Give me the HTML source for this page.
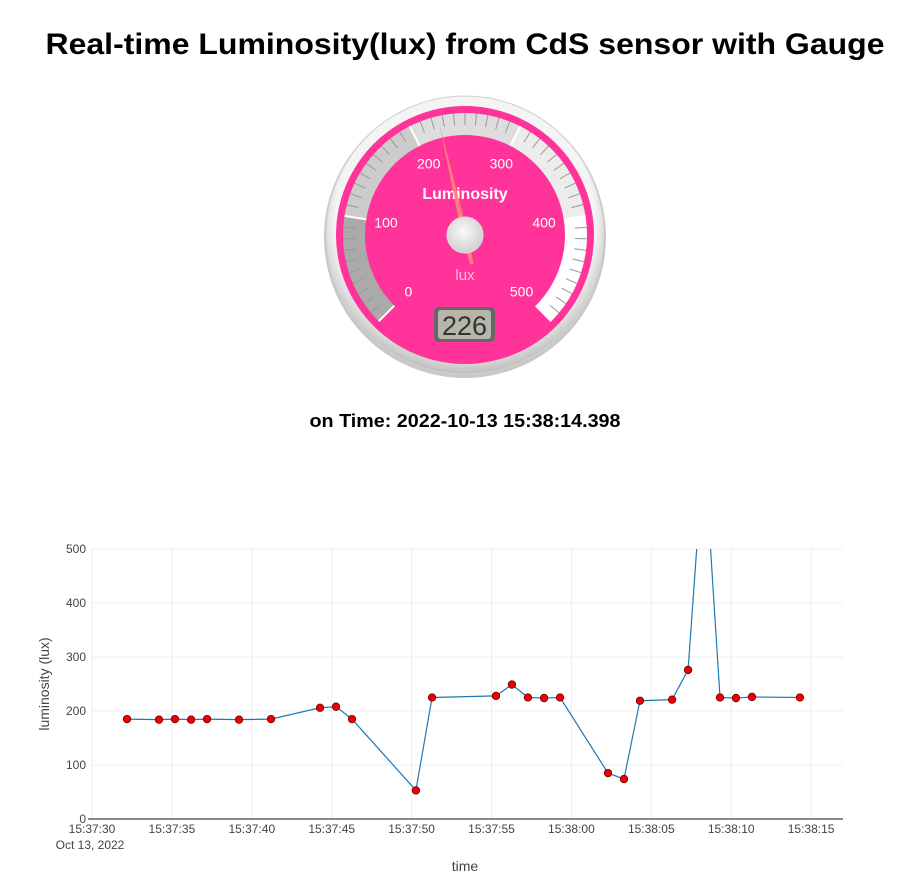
<!DOCTYPE html>
<html><head><meta charset="utf-8"><style>
html,body{margin:0;padding:0;background:#fff;width:911px;height:883px;overflow:hidden}
svg{display:block;font-family:"Liberation Sans",sans-serif}
</style></head><body>
<svg id="root" width="911" height="883" viewBox="0 0 911 883">
<defs>
<radialGradient id="bez" cx="50%" cy="45%" r="55%"><stop offset="0.85" stop-color="#f4f4f4"/><stop offset="1" stop-color="#bdbdbd"/></radialGradient>
<radialGradient id="hub" cx="45%" cy="40%" r="60%"><stop offset="0" stop-color="#fafafa"/><stop offset="1" stop-color="#cfcfcf"/></radialGradient>
<clipPath id="plotclip"><rect x="92" y="549" width="751" height="270"/></clipPath>
</defs>
<text x="465" y="54" text-anchor="middle" font-size="30" font-weight="bold" textLength="839" lengthAdjust="spacingAndGlyphs" fill="#000">Real-time Luminosity(lux) from CdS sensor with Gauge</text>
<g id="gauge"></g>
<text x="465" y="427" text-anchor="middle" font-size="18" font-weight="bold" textLength="311" lengthAdjust="spacingAndGlyphs">on Time: 2022-10-13 15:38:14.398</text>
<g id="chart"></g>
</svg>
<script>
// ---- gauge data ----
const gaugeValue = 226;
const gaugeTicks = [0,100,200,300,400,500];
const bandColors = ["#aaaaaa","#cccccc","#dddddd","#ececec","#ffffff"];
// ---- chart data ----
const startLabel = "15:37:30";
const timeOffsets = [2.19,4.19,5.19,6.2,7.2,9.2,11.2,14.27,15.27,16.27,20.27,21.28,25.28,26.28,27.28,28.29,29.29,32.29,33.29,34.29,36.3,37.3,38.3,39.3,40.3,41.3,44.3];
const luxValues = [185,184,185,184,185,184,185,206,208,185,53,225,228,249,225,224,225,85,74,219,221,276,690,225,224,226,225];
const yTicks = [0,100,200,300,400,500];
const xTickSecs = [0,5,10,15,20,25,30,35,40,45];
const xTickLabels = ["15:37:30","15:37:35","15:37:40","15:37:45","15:37:50","15:37:55","15:38:00","15:38:05","15:38:10","15:38:15"];

const NS="http://www.w3.org/2000/svg";
function mk(tag,attrs,parent){const e=document.createElementNS(NS,tag);for(const k in attrs)e.setAttribute(k,attrs[k]);parent.appendChild(e);return e;}

// gauge
const G=document.getElementById('gauge');
const cx=465,cy=235;
const ang=v=>(-135+v*0.54)*Math.PI/180;
const pt=(v,r)=>[cx+r*Math.sin(ang(v)),cy-r*Math.cos(ang(v))];
let e;
e=mk('circle',{cx:cx,cy:cy+2,r:141,fill:'#c8c8c8'},G);

e=mk('circle',{cx:cx,cy:cy,r:139,fill:'url(#bez)',stroke:'#d0d0d0','stroke-width':1},G);

e=mk('circle',{cx:cx,cy:cy,r:129,fill:'#ff3399'},G);

for(let i=0;i<5;i++){
  const a=i*100,b=(i+1)*100,ro=122,ri=100;
  const [x1,y1]=pt(a,ro),[x2,y2]=pt(b,ro),[x3,y3]=pt(b,ri),[x4,y4]=pt(a,ri);
  e=mk('path',{d:`M${x1},${y1} A${ro},${ro} 0 0 1 ${x2},${y2} L${x3},${y3} A${ri},${ri} 0 0 0 ${x4},${y4} Z`,fill:bandColors[i]},G);
  
}
for(let v=0;v<=500;v+=10){
  const [x1,y1]=pt(v,122),[x2,y2]=pt(v,v%100===0?100:110);
  e=mk('line',{x1:x1,y1:y1,x2:x2,y2:y2,stroke:v%100===0?'#fff':'#999','stroke-width':v%100===0?2:1},G);
  
}
gaugeTicks.forEach(v=>{const [x,y]=pt(v,80);
  e=mk('text',{x:x,y:y+5,'text-anchor':'middle','font-size':14,fill:'#fff'},G);e.textContent=v;
  });
e=mk('text',{x:cx,y:199,'text-anchor':'middle','font-size':16,'font-weight':'bold',fill:'#fff'},G);e.textContent='Luminosity';

e=mk('text',{x:cx,y:280,'text-anchor':'middle','font-size':15,fill:'#ffc0dd'},G);e.textContent='lux';

e=mk('rect',{x:434,y:307,width:61,height:35,rx:5,fill:'#666'},G);

e=mk('rect',{x:438,y:310,width:53,height:29,rx:3,fill:'#b5b5aa'},G);

e=mk('text',{x:464.5,y:335,'text-anchor':'middle','font-size':27,fill:'#333'},G);e.textContent=gaugeValue;

// needle
{const a=ang(gaugeValue);const [tx,ty]=pt(gaugeValue,114);const [bx,by]=pt(gaugeValue,-30);
 const px=Math.cos(a)*3,py=Math.sin(a)*3;
 e=mk('path',{d:`M${tx},${ty} L${cx+px},${cy+py} L${bx+px*0.6},${by+py*0.6} L${bx-px*0.6},${by-py*0.6} L${cx-px},${cy-py} Z`,fill:'#ff8877',opacity:0.9},G);
 }
e=mk('circle',{cx:cx,cy:cy,r:18,fill:'url(#hub)',stroke:'#ddd'},G);


// chart
const C=document.getElementById('chart');
const X0=92,XS=15.98,Y0=819,YS=0.54;
const xs=t=>X0+t*XS, ys=v=>Y0-v*YS;
yTicks.forEach(v=>{
  if(v>0){e=mk('line',{x1:92,x2:843,y1:ys(v),y2:ys(v),stroke:'#ececec'},C);
  }
  e=mk('text',{x:86,y:ys(v)+4,'text-anchor':'end','font-size':12,fill:'#444'},C);e.textContent=v;
  
});
xTickSecs.forEach((s,i)=>{
  e=mk('line',{x1:xs(s),x2:xs(s),y1:549,y2:819,stroke:'#ececec'},C);
  
  e=mk('text',{x:xs(s),y:833,'text-anchor':'middle','font-size':12,fill:'#444'},C);e.textContent=xTickLabels[i];
  
});
e=mk('text',{x:90,y:849,'text-anchor':'middle','font-size':12,fill:'#444'},C);e.textContent='Oct 13, 2022';

e=mk('line',{x1:88,x2:843,y1:819,y2:819,stroke:'#444','stroke-width':1.2},C);

e=mk('text',{x:465,y:871,'text-anchor':'middle','font-size':14,fill:'#444'},C);e.textContent='time';

e=mk('text',{x:0,y:0,'text-anchor':'middle','font-size':14,fill:'#444',transform:'translate(49,684) rotate(-90)'},C);e.textContent='luminosity (lux)';

const d=timeOffsets.map((t,i)=>(i?'L':'M')+xs(t)+','+ys(luxValues[i])).join(' ');
e=mk('path',{d:d,fill:'none',stroke:'#1f77b4','stroke-width':1.2,'clip-path':'url(#plotclip)'},C);

timeOffsets.forEach((t,i)=>{
  if(luxValues[i]>500)return;
  e=mk('circle',{cx:xs(t),cy:ys(luxValues[i]),r:3.8,fill:'#ee0000',stroke:'#550000','stroke-width':0.7},C);
  
});
</script>
</body></html>
